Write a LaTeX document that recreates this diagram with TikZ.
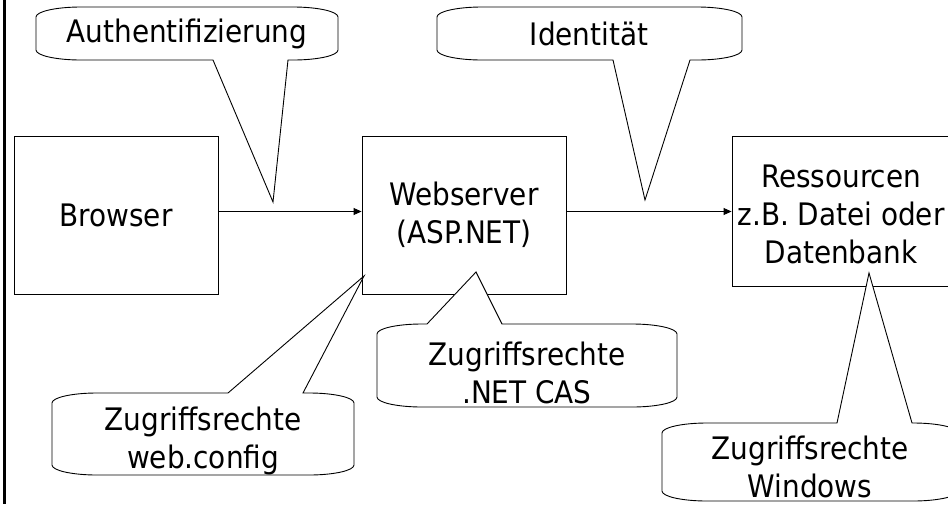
\documentclass[tikz,border=0pt]{standalone}
\usepackage{fontspec}
\IfFontExistsTF{DejaVu Sans Condensed}{\setmainfont{DejaVu Sans Condensed}}{\setmainfont{DejaVu Sans}[FakeStretch=0.9]}
\usetikzlibrary{arrows.meta}
\newcommand\calloutbelow[7]{%
  \draw[callout] (#1+45,#2) -- (#3-45,#2)
    arc[start angle=-90,end angle=0,x radius=45,y radius=10] -- (#3,#4-10)
    arc[start angle=0,end angle=90,x radius=45,y radius=10] -- (#6,#4) -- (#7) -- (#5,#4) -- (#1+45,#4)
    arc[start angle=90,end angle=180,x radius=45,y radius=10] -- (#1,#2+10)
    arc[start angle=180,end angle=270,x radius=45,y radius=10] -- cycle;}
\newcommand\calloutabove[7]{%
  \draw[callout] (#1+45,#2) -- (#5,#2) -- (#7) -- (#6,#2) -- (#3-45,#2)
    arc[start angle=-90,end angle=0,x radius=45,y radius=10] -- (#3,#4-10)
    arc[start angle=0,end angle=90,x radius=45,y radius=10] -- (#1+45,#4)
    arc[start angle=90,end angle=180,x radius=45,y radius=10] -- (#1,#2+10)
    arc[start angle=180,end angle=270,x radius=45,y radius=10] -- cycle;}
\begin{document}
\begin{tikzpicture}[x=1pt,y=-1pt,
  every node/.style={font=\fontsize{31}{38}\selectfont, align=center, inner sep=0pt},
  box/.style={draw, line width=0.9pt},
  callout/.style={draw, line width=0.9pt, fill=white},
  arr/.style={line width=0.9pt, -{Triangle[length=8pt,width=7pt]}}]
\useasboundingbox (0,0) rectangle (948,504);
\fill[white] (0,0) rectangle (948,504);
\draw[line width=3pt] (4,0) -- (4,504);
% boxes
\node[box, minimum width=204, minimum height=158] (browser) at (116,215) {Browser};
\node[box, minimum width=204, minimum height=158] (web) at (464,215) {Webserver\\(ASP.NET)};
\node[box, minimum width=218, minimum height=150] (ress) at (841,211) {};
\node (resstext) at (841,214) {Ressourcen\\z.B. Datei oder\\Datenbank};
\draw[arr] ([yshift=3.5pt]browser.east) -- ([yshift=3.5pt]web.west);
\draw[arr] ([yshift=3.5pt]web.east) -- ([yshift=3.5pt]web.east -| ress.west);
% pointer tips
\coordinate (authtip) at (273,202);
\coordinate (idtip) at (645,200);
\coordinate (wctip) at (364,276);
\coordinate (castip) at (476,272);
\coordinate (wintip) at (869,273);
% callouts
\calloutbelow{36}{7}{338}{60}{213}{288}{authtip}
\node (auth) at (187,34) {Authentifizierung};
\calloutbelow{437}{7}{742}{60}{613}{690}{idtip}
\node (ident) at (589,34) {Identität};
\calloutabove{52}{393}{354}{475}{228}{303}{wctip}
\node (wc) at (203,441) {Zugriffsrechte\\web.config};
\calloutabove{377}{324}{677}{407}{427}{502}{castip}
\node (cas) at (527,373) {Zugriffsrechte\\.NET CAS};
\calloutabove{662}{423}{958}{501}{837}{912}{wintip}
\node (win) at (810,467) {Zugriffsrechte\\Windows};
\end{tikzpicture}
\end{document}
